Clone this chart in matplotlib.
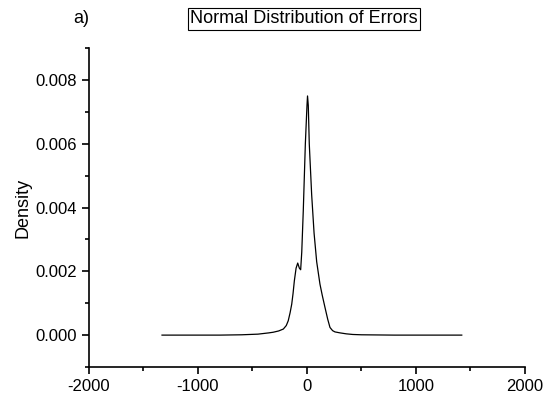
import numpy as np
import matplotlib.pyplot as plt
from matplotlib.ticker import MultipleLocator

plt.rcParams['font.family'] = ['Liberation Sans', 'DejaVu Sans']
plt.rcParams['axes.unicode_minus'] = False

# density curve
err = [-1330, -800, -600, -450, -400, -350, -310, -260, -217, -190, -172, -155,
       -140, -128, -116, -100, -85, -70, -58, -48, -34, -15, 0, 5, 12, 21, 43,
       65, 89, 119, 140, 165, 190, 211, 235, 257, 303, 360, 420, 500, 800, 1420]
density = [0, 0, 0.00001, 0.00003, 0.00005, 0.00007, 0.00009, 0.00013, 0.00019,
           0.0003, 0.00045, 0.0007, 0.00097, 0.0013, 0.0017, 0.0021, 0.00226,
           0.0021, 0.00205, 0.0026, 0.0039, 0.006, 0.0072, 0.0075, 0.0072,
           0.006, 0.0044, 0.0032, 0.0023, 0.0016, 0.00125, 0.00087, 0.0005,
           0.00024, 0.00014, 0.0001, 0.00007, 0.00004, 0.00002, 0.00001, 0, 0]

fig = plt.figure(figsize=(5.5, 4.01), dpi=100)
ax = fig.add_axes([0.1618, 0.0848, 0.7927, 0.7952])

ax.plot(err, density, color='black', lw=0.9)

ax.set_xlim(-2000, 2000)
ax.set_ylim(-0.001, 0.009)
ax.xaxis.set_major_locator(MultipleLocator(1000))
ax.xaxis.set_minor_locator(MultipleLocator(500))
ax.yaxis.set_major_locator(MultipleLocator(0.002))
ax.yaxis.set_minor_locator(MultipleLocator(0.001))
ax.yaxis.set_major_formatter(plt.FuncFormatter(lambda v, p: '%.3f' % v))

for s in ['top', 'right']:
    ax.spines[s].set_visible(False)
for s in ['left', 'bottom']:
    ax.spines[s].set_linewidth(1.2)
ax.tick_params(which='major', direction='out', length=5, width=1.2, labelsize=12)
ax.tick_params(which='minor', direction='out', length=3, width=1.2)

ax.set_ylabel('Density', fontsize=13, labelpad=3)

fig.text(0.553, 0.953, 'Normal Distribution of Errors', ha='center', va='center',
         fontsize=13, bbox=dict(boxstyle='square,pad=0.12', fc='white', ec='black', lw=0.8))
fig.text(0.133, 0.953, 'a)', ha='left', va='center', fontsize=13)

fig.savefig('out.png', dpi=100)
